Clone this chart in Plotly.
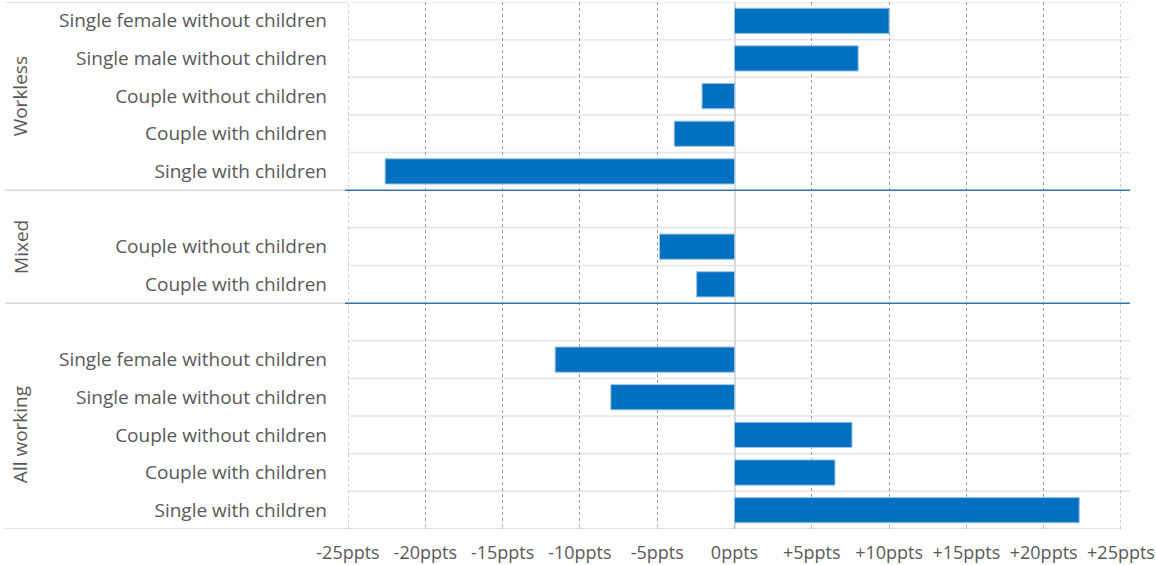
import plotly.graph_objects as go

# Data
groups = ["Workless", "Mixed", "All working"]
workless_labels = ["Single female without children", "Single male without children",
                   "Couple without children", "Couple with children", "Single with children"]
workless_values = [10.0, 8.0, -2.1, -3.9, -22.6]
mixed_labels = ["Couple without children", "Couple with children"]
mixed_values = [-4.85, -2.45]
working_labels = ["Single female without children", "Single male without children",
                  "Couple without children", "Couple with children", "Single with children"]
working_values = [-11.6, -8.0, 7.6, 6.5, 22.3]
x_ticks = [-25, -20, -15, -10, -5, 0, 5, 10, 15, 20, 25]
x_ticklabels = ["-25ppts", "-20ppts", "-15ppts", "-10ppts", "-5ppts", "0ppts",
                "+5ppts", "+10ppts", "+15ppts", "+20ppts", "+25ppts"]

# Slot layout (top = 0): Workless 0-4, Mixed blank 5 then 6-7, All working blank 8 then 9-13
w_pos = list(range(0, 5))
m_pos = [6, 7]
a_pos = list(range(9, 14))

ypos = w_pos + m_pos + a_pos
labels = workless_labels + mixed_labels + working_labels
values = workless_values + mixed_values + working_values

FONT = "Open Sans"
TXT = "#595959"
GRID = "#9A9A9A"

fig = go.Figure()
fig.add_trace(go.Bar(
    x=values, y=ypos, orientation="h", width=0.67,
    marker=dict(color="#0070C0", line=dict(color="#9DC3E6", width=1)),
    hoverinfo="x+y", showlegend=False,
))

shapes = []
# row boundaries
for b in range(15):
    yb = b - 0.5
    if b in (0, 5, 8, 14):
        shapes.append(dict(type="line", xref="paper", yref="y", x0=-0.444, x1=0.0,
                           y0=yb, y1=yb, line=dict(color="#D9D9D9", width=1.5), layer="below"))
    if b in (5, 8):
        shapes.append(dict(type="line", xref="paper", yref="y", x0=-0.004, x1=1.0116,
                           y0=yb, y1=yb, line=dict(color="#2E75B6", width=1.5), layer="above"))
    elif b == 14:
        shapes.append(dict(type="line", xref="paper", yref="y", x0=0, x1=1.0,
                           y0=yb, y1=yb, line=dict(color="#D9D9D9", width=1.5), layer="below"))
    else:
        shapes.append(dict(type="line", xref="paper", yref="y", x0=0, x1=1.0116,
                           y0=yb, y1=yb, line=dict(color="#E6E6E6", width=1.5), layer="below"))

# dashed gridlines at the range edges (not drawn by plotly)
for xv in (x_ticks[0], x_ticks[-1]):
    shapes.append(dict(type="line", xref="x", yref="paper", x0=xv, x1=xv, y0=0, y1=1,
                       line=dict(color=GRID, width=1, dash="3px,3px"), layer="below"))

fig.update_layout(
    width=1156, height=565,
    margin=dict(l=348, r=35, t=2, b=36),
    paper_bgcolor="white", plot_bgcolor="white",
    font=dict(family=FONT, size=19, color=TXT),
    shapes=shapes,
)

fig.update_xaxes(
    range=[-25, 25], tickvals=x_ticks, ticktext=x_ticklabels,
    showgrid=True, gridcolor=GRID, griddash="3px,3px", gridwidth=1,
    zeroline=True, zerolinecolor="#D9D9D9", zerolinewidth=1.5,
    ticks="inside", ticklen=5, tickcolor="#BFBFBF",
    ticklabelstandoff=11,
    tickfont=dict(family=FONT, size=18, color=TXT),
    showline=False, fixedrange=True,
)
fig.update_yaxes(
    range=[13.5, -0.5], tickvals=ypos, ticktext=labels,
    showgrid=False, zeroline=False, showline=False,
    ticks="", ticklabelstandoff=20,
    tickfont=dict(family=FONT, size=19, color=TXT),
    fixedrange=True,
)

# group labels
group_centers = [2, 6, 11]
for g, c in zip(groups, group_centers):
    fig.add_annotation(text=g, xref="paper", yref="y", x=-0.424, y=c,
                       textangle=-90, showarrow=False, xanchor="center", yanchor="middle",
                       font=dict(family=FONT, size=19, color=TXT))

fig.write_html("out.html")
